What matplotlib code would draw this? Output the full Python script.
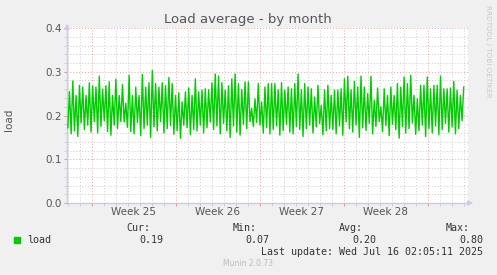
import matplotlib
matplotlib.use('Agg')
import matplotlib.pyplot as plt
import matplotlib.dates as mdates
import matplotlib.transforms as mtransforms
import numpy as np
from datetime import datetime, timedelta

# load average, alternating daily-ish peaks and troughs
peaks = [0.255, 0.279, 0.246, 0.269, 0.265, 0.246, 0.275, 0.268, 0.265, 0.290,
         0.260, 0.268, 0.277, 0.246, 0.283, 0.246, 0.271, 0.228, 0.292, 0.246,
         0.265, 0.246, 0.294, 0.265, 0.275, 0.303, 0.273, 0.265, 0.275, 0.268,
         0.287, 0.273, 0.246, 0.252, 0.231, 0.254, 0.263, 0.246, 0.284,
         0.254, 0.258, 0.261, 0.259, 0.275, 0.295, 0.290, 0.275, 0.258, 0.268,
         0.284, 0.295, 0.273, 0.259, 0.277, 0.277, 0.216, 0.238, 0.273, 0.231,
         0.265, 0.273, 0.273, 0.273, 0.259, 0.275, 0.258, 0.265, 0.261, 0.273,
         0.295, 0.259, 0.273, 0.265, 0.261, 0.242, 0.269, 0.223, 0.259, 0.269,
         0.246,
         0.258, 0.258, 0.261, 0.284, 0.290, 0.259, 0.278, 0.265, 0.290, 0.265,
         0.250, 0.290, 0.235, 0.263, 0.220, 0.261, 0.246, 0.265, 0.246, 0.273,
         0.265, 0.288, 0.273, 0.292, 0.246, 0.238, 0.269, 0.269, 0.288, 0.261,
         0.269, 0.269, 0.290, 0.261, 0.261, 0.263, 0.278, 0.258, 0.246, 0.265]
troughs = [0.172, 0.158, 0.165, 0.152, 0.183, 0.168, 0.178, 0.162, 0.186, 0.160,
           0.175, 0.188, 0.163, 0.155, 0.178, 0.170, 0.186, 0.185, 0.173, 0.163,
           0.158, 0.184, 0.154, 0.170, 0.178, 0.150, 0.174, 0.165, 0.186, 0.160,
           0.170, 0.177, 0.157, 0.165, 0.148, 0.178, 0.172, 0.156, 0.168,
           0.165, 0.178, 0.160, 0.172, 0.185, 0.168, 0.176, 0.158, 0.182, 0.165,
           0.150, 0.176, 0.162, 0.155, 0.180, 0.170, 0.186, 0.175, 0.184, 0.178,
           0.160, 0.172, 0.158, 0.168, 0.176, 0.155, 0.166, 0.180, 0.162, 0.158,
           0.175, 0.168, 0.152, 0.170, 0.178, 0.160, 0.174, 0.182, 0.156, 0.165,
           0.170,
           0.168, 0.158, 0.176, 0.155, 0.185, 0.170, 0.162, 0.178, 0.150, 0.172,
           0.166, 0.182, 0.158, 0.175, 0.186, 0.163, 0.177, 0.154, 0.180, 0.168,
           0.148, 0.175, 0.160, 0.170, 0.183, 0.157, 0.165, 0.178, 0.152, 0.170,
           0.160, 0.176, 0.156, 0.168, 0.182, 0.162, 0.174, 0.158, 0.170, 0.188]

week_labels = ['Week 25', 'Week 26', 'Week 27', 'Week 28']
week_lines = [datetime(2025, 6, 15), datetime(2025, 6, 22), datetime(2025, 6, 29),
              datetime(2025, 7, 6), datetime(2025, 7, 13)]
t_start = datetime(2025, 6, 12, 23, 0)
t_end = datetime(2025, 7, 16, 9, 0)

stat_names = ['Cur:', 'Min:', 'Avg:', 'Max:']
stat_values = ['0.19', '0.07', '0.20', '0.80']
last_update = 'Last update: Wed Jul 16 02:05:11 2025'

n = min(len(peaks), len(troughs))
values = np.column_stack((troughs[:n], peaks[:n])).ravel()
data_end = datetime(2025, 7, 16, 2, 5)
step = (data_end - t_start) / len(values)
times = [t_start + step * (i + 0.5) for i in range(len(values))]

W, H = 497, 275
fig = plt.figure(figsize=(W / 100, H / 100), dpi=100)
fig.patch.set_facecolor('#F0F0F0')
ax = fig.add_axes([67 / W, 72 / H, 401 / W, 175 / H])
ax.set_facecolor('white')

ax.plot(mdates.date2num(times), values, color='#00CC00', lw=1.0, zorder=3)

ax.set_xlim(mdates.date2num(t_start), mdates.date2num(t_end))
ax.set_ylim(0, 0.4)
ax.set_xticks(mdates.date2num(week_lines))
ax.set_xticks(mdates.date2num([datetime(2025, 6, 13) + timedelta(days=d)
                               for d in range(0, 34)]), minor=True)
ax.set_xticklabels([])
ax.set_yticks(np.arange(0, 0.41, 0.1))
ax.set_yticks(np.arange(0, 0.41, 0.02), minor=True)
ax.set_yticklabels(['%.1f' % v for v in np.arange(0, 0.41, 0.1)])

ax.grid(which='minor', color='#CCCCCC', linestyle=(0, (1, 2)), lw=0.7, zorder=1)
ax.grid(which='major', color='#E8A0A0', linestyle=(0, (1, 2)), lw=0.7, zorder=2)
ax.tick_params(which='both', direction='out', length=2, width=0.6, colors='#C8C8C8',
               labelcolor='#555555', labelsize=7.5, pad=2)
ax.tick_params(which='major', colors='#E08080', labelcolor='#555555')

for s in ['top', 'right']:
    ax.spines[s].set_visible(False)
for s in ['left', 'bottom']:
    ax.spines[s].set_color('#C8C8F0')
    ax.spines[s].set_linewidth(1.0)

ax.annotate('', xy=(0, 1.04), xytext=(0, 0.99), xycoords='axes fraction',
            arrowprops=dict(arrowstyle='-|>', color='#C8C8F0', lw=1, mutation_scale=7),
            annotation_clip=False)
ax.annotate('', xy=(1.02, 0), xytext=(0.995, 0), xycoords='axes fraction',
            arrowprops=dict(arrowstyle='-|>', color='#C8C8F0', lw=1, mutation_scale=7),
            annotation_clip=False)

trans = mtransforms.blended_transform_factory(ax.transData, ax.transAxes)
for i, lab in enumerate(week_labels):
    mid = mdates.date2num(week_lines[i]) + 3.5
    ax.text(mid, -0.05, lab, transform=trans, ha='center', va='center',
            fontsize=7.5, color='#555555')

fig.text(248 / W, 1 - 19 / H, 'Load average - by month', ha='center', va='center',
         fontsize=9.5, color='#555555')
fig.text(9 / W, 1 - 120 / H, 'load', rotation=90, ha='center', va='center',
         fontsize=7.5, color='#555555')
fig.text(488 / W, 1 - 5 / H, 'RRDTOOL / TOBI OETIKER', rotation=270, ha='center',
         va='top', fontsize=5.2, color='#C8C8C8')

mono = 'DejaVu Sans Mono'
fig.patches.append(plt.Rectangle((14 / W, 1 - 243 / H), 6 / W, 6 / H,
                                 transform=fig.transFigure, color='#00CC00'))
fig.text(27 / W, 1 - 240 / H, 'load', ha='left', va='center', family=mono,
         fontsize=7.2, color='#333333')
name_x = [150, 257, 363, 470]
val_x = [163, 269, 376, 483]
for nm, v, nx, vx in zip(stat_names, stat_values, name_x, val_x):
    fig.text(nx / W, 1 - 228 / H, nm, ha='right', va='center', family=mono,
             fontsize=7.2, color='#333333')
    fig.text(vx / W, 1 - 240 / H, v, ha='right', va='center', family=mono,
             fontsize=7.2, color='#333333')
fig.text(483 / W, 1 - 252 / H, last_update, ha='right', va='center', family=mono,
         fontsize=7.2, color='#333333')
fig.text(248 / W, 1 - 264 / H, 'Munin 2.0.73', ha='center', va='center',
         fontsize=5.5, color='#BBBBBB')

fig.savefig('out.png', dpi=100, facecolor=fig.get_facecolor())
